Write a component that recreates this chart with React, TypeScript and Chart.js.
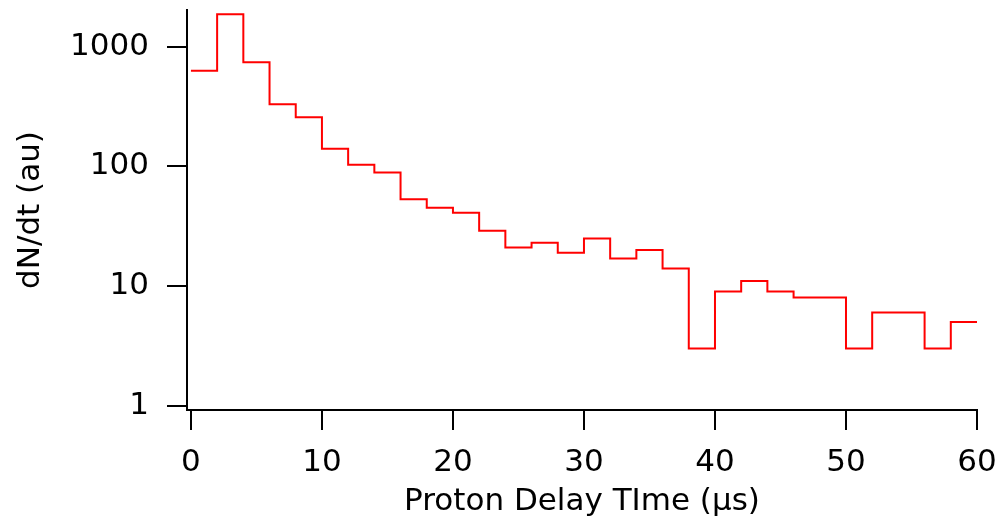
import React, { useEffect, useRef } from "react";
import { Chart, registerables } from "chart.js";

Chart.register(...registerables);

// Bin edges (µs) of the histogram
const binEdges = [0, 2, 4, 6, 8, 10, 12, 14, 16, 18, 20, 22, 24, 26, 28, 30, 32, 34, 36, 38, 40, 42, 44, 46, 48, 50, 52, 54, 56, 58, 60];
// dN/dt per bin (au)
const binValues = [630, 1870, 740, 330, 257, 140, 103, 89, 53, 45, 41, 29, 21, 23, 19, 25, 17, 20, 14, 3, 9, 11, 9, 8, 8, 3, 6, 6, 3, 5];
const xTickValues = [0, 10, 20, 30, 40, 50, 60];
const yTickValues = [1, 10, 100, 1000];
const xTitle = "Proton Delay TIme (μs)";
const yTitle = "dN/dt (au)";

const FONT = "'DejaVu Sans', 'Liberation Sans', sans-serif";
const FS = 31;

export default function App() {
  const ref = useRef<HTMLCanvasElement | null>(null);

  useEffect(() => {
    if (!ref.current) return;
    const points = binEdges.map((x, i) => ({ x, y: binValues[Math.min(i, binValues.length - 1)] }));
    const chart = new Chart(ref.current, {
      type: "line",
      data: {
        datasets: [
          {
            data: points,
            borderColor: "#ff0000",
            borderWidth: 2,
            pointRadius: 0,
            stepped: "before",
            fill: false,
            tension: 0,
          },
        ],
      },
      options: {
        animation: false,
        responsive: false,
        layout: { padding: { left: 0, top: 10, right: 23, bottom: 0 } },
        plugins: { legend: { display: false }, tooltip: { enabled: false } },
        scales: {
          x: {
            type: "linear",
            min: -0.3,
            max: 60,
            afterBuildTicks: (s: any) => {
              s.ticks = xTickValues.map((v) => ({ value: v }));
            },
            afterFit: (s: any) => {
              s.height = 111;
              s.paddingLeft = 0;
              s.paddingRight = 0;
              s.paddingTop = 0;
              s.paddingBottom = 0;
            },
            grid: {
              display: true,
              drawOnChartArea: false,
              drawTicks: true,
              tickLength: 20,
              lineWidth: 2,
              color: "#000",
            },
            border: { display: true, color: "#000", width: 2 },
            ticks: {
              color: "#000",
              padding: 14,
              maxRotation: 0,
              font: { family: FONT, size: FS },
              callback: (v: any) => String(v),
            },
            title: {
              display: true,
              text: xTitle,
              color: "#000",
              font: { family: FONT, size: FS },
              padding: { top: 0, bottom: 0 },
            },
          },
          y: {
            type: "logarithmic",
            min: 0.92,
            max: 2025,
            afterBuildTicks: (s: any) => {
              s.ticks = yTickValues.map((v) => ({ value: v }));
            },
            afterFit: (s: any) => {
              s.width = 187;
              s.paddingLeft = 0;
              s.paddingRight = 0;
              s.paddingTop = 0;
              s.paddingBottom = 0;
            },
            grid: {
              display: true,
              drawOnChartArea: false,
              drawTicks: true,
              tickLength: 20,
              lineWidth: 2,
              color: "#000",
            },
            border: { display: true, color: "#000", width: 2 },
            ticks: {
              color: "#000",
              padding: 18,
              font: { family: FONT, size: FS },
              callback: (v: any) => String(v),
            },
            title: {
              display: true,
              text: yTitle,
              color: "#000",
              font: { family: FONT, size: FS },
              padding: { top: 12, bottom: 0 },
            },
          },
        },
      },
    });
    return () => chart.destroy();
  }, []);

  return (
    <div style={{ position: "fixed", left: 0, top: 0, width: 1000, height: 521, background: "#fff" }}>
      <canvas ref={ref} width={1000} height={521} style={{ display: "block" }} />
    </div>
  );
}
